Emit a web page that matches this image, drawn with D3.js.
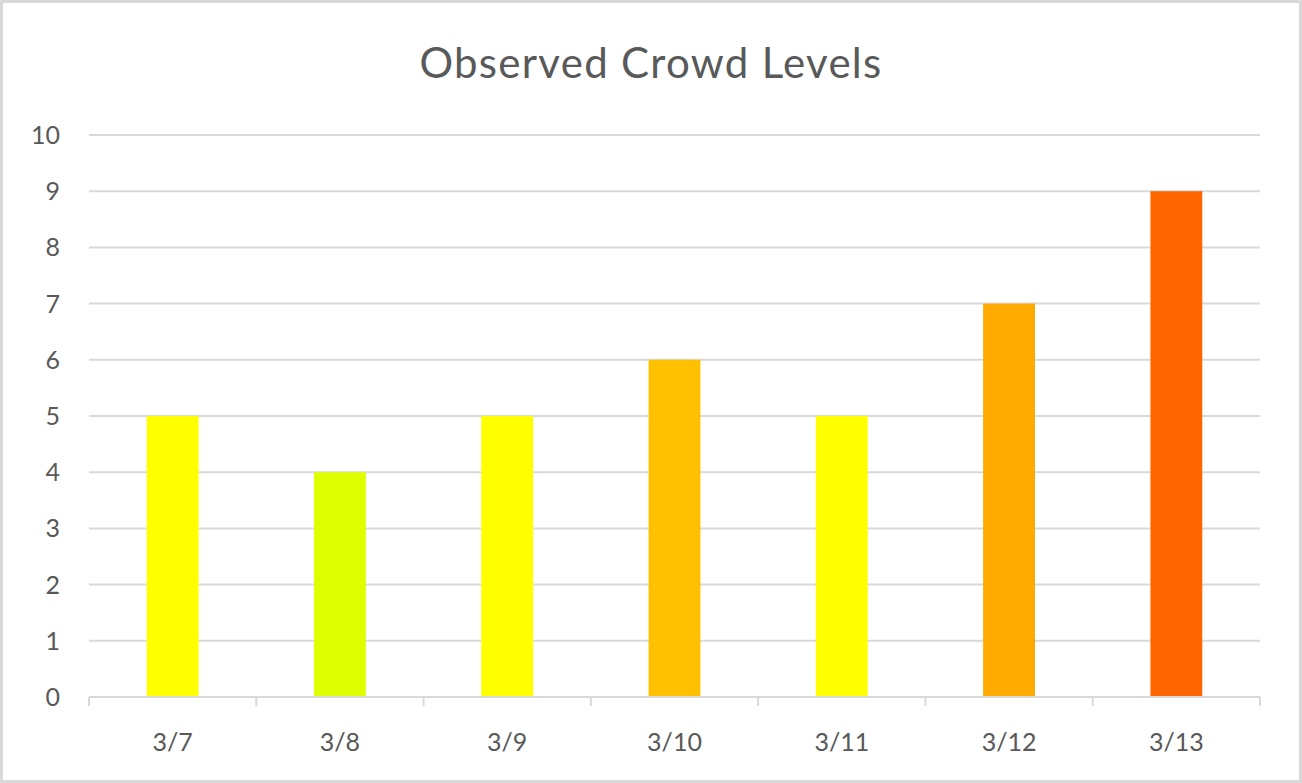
<!DOCTYPE html>
<html><head><meta charset="utf-8">
<script src="https://cdn.jsdelivr.net/npm/d3@7"></script>
<style>html,body{margin:0;padding:0;background:#fff;overflow:hidden}</style>
</head><body>
<script>
const categories = ["3/7","3/8","3/9","3/10","3/11","3/12","3/13"];
const values = [5,4,5,6,5,7,9];
const barColors = ["#FFFF00","#DDFF00","#FFFF00","#FFC000","#FFFF00","#FFAA00","#FF6600"];
const yTicks = [0,1,2,3,4,5,6,7,8,9,10];
const title = "Observed Crowd Levels";

(function(){
const W = 1302, H = 783;
const svg = d3.select("body").append("svg").attr("width", W).attr("height", H);
svg.append("rect").attr("x",1.5).attr("y",1.5).attr("width",W-3).attr("height",H-3)
  .attr("fill","#fff").attr("stroke","#d9d9d9").attr("stroke-width",3);

const pl = 89, pr = 1260, pt = 135, pb = 697;
const font = "Lato, 'Open Sans', sans-serif";
const x = d3.scaleBand().domain(categories).range([pl, pr]).paddingInner(0.69).paddingOuter(0.345);
const y = d3.scaleLinear().domain([0,10]).range([pb, pt]);

svg.append("text").attr("x", 651).attr("y", 78).attr("text-anchor","middle")
  .attr("font-family", font).attr("font-size", 42).attr("fill","#595959").attr("letter-spacing", 1.3).text(title);

// gridlines
svg.append("g").selectAll("line").data(yTicks.filter(d=>d>0)).join("line")
  .attr("x1", pl).attr("x2", pr).attr("y1", d=>y(d)).attr("y2", d=>y(d))
  .attr("stroke","#d9d9d9").attr("stroke-width",2);

// y labels
svg.append("g").selectAll("text").data(yTicks).join("text")
  .attr("x", 60).attr("y", d=>y(d)).attr("dy","0.36em").attr("text-anchor","end")
  .attr("font-family", font).attr("font-size", 25).attr("fill","#595959").text(d=>d);

// bars
svg.append("g").selectAll("rect").data(values).join("rect")
  .attr("x", (d,i)=>x(categories[i])).attr("width", x.bandwidth())
  .attr("y", d=>y(d)).attr("height", d=>pb - y(d))
  .attr("fill", (d,i)=>barColors[i]);

// x axis line and ticks
const step = (pr-pl)/categories.length;
svg.append("line").attr("x1", pl).attr("x2", pr).attr("y1", pb).attr("y2", pb)
  .attr("stroke","#d9d9d9").attr("stroke-width",2);
svg.append("g").selectAll("line").data(d3.range(categories.length+1)).join("line")
  .attr("x1", i=>pl+i*step).attr("x2", i=>pl+i*step).attr("y1", pb).attr("y2", pb+9)
  .attr("stroke","#d9d9d9").attr("stroke-width",2);

svg.append("g").selectAll("text").data(categories).join("text")
  .attr("x", d=>x(d)+x.bandwidth()/2).attr("y", 751).attr("text-anchor","middle")
  .attr("font-family", font).attr("font-size", 25).attr("fill","#595959").text(d=>d);
})();
</script>
</body></html>
